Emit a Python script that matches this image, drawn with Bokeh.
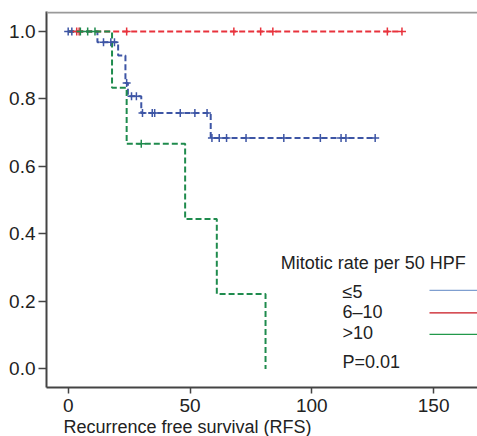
from bokeh.plotting import figure
from bokeh.models import Range1d, FixedTicker, PrintfTickFormatter, Span, Title
from bokeh.core.properties import value
from bokeh.embed import file_html
from bokeh.resources import INLINE

# ---- data ----
groups = ["\u22645", "6\u201310", ">10"]

blue_event_t = [12, 20.5, 23.5, 24.5, 30, 58.5]
blue_surv = [0.968, 0.929, 0.847, 0.808, 0.758, 0.684]
blue_censor_t = [0, 1.5, 14.5, 17.5, 19, 24, 26, 28, 30.5, 34.5, 35.5, 46, 52, 57,
                 59, 62, 65, 73, 88.5, 103.5, 112, 114, 126]
blue_end = 126

red_event_t = []
red_surv = []
red_censor_t = [3.5, 4.5, 24, 68, 79, 84, 131, 137]
red_end = 137

green_event_t = [18, 24, 48, 61, 81]
green_surv = [0.833, 0.667, 0.444, 0.222, 0.0]
green_censor_t = [5, 8, 11, 30]
green_end = 81

x_ticks = [0, 50, 100, 150]
y_ticks = [0.0, 0.2, 0.4, 0.6, 0.8, 1.0]
legend_title = "Mitotic rate per 50 HPF"
p_text = "P=0.01"
x_label = "Recurrence free survival (RFS)"

curve_colors = ["#3d55a5", "#e8323c", "#1f8b4d"]
legend_colors = ["#7f9fd0", "#c8141e", "#22994a"]

FONT = "Liberation Sans"

p = figure(width=477, height=436, output_backend="svg", toolbar_location=None,
           x_range=Range1d(-8.9, 168), y_range=Range1d(-0.055, 1.059),
           min_border_left=46, min_border_right=0, min_border_top=11,
           min_border_bottom=49)
p.grid.visible = False
p.outline_line_color = None
p.background_fill_color = "white"
p.border_fill_color = "white"

p.add_layout(Span(location=1.056, dimension="width", line_color="#9a9a9a", line_width=2))


def surv_at(t, ev_t, ev_s):
    s = 1.0
    for et, es in zip(ev_t, ev_s):
        if et <= t:
            s = es
    return s


series = [
    (blue_event_t, blue_surv, blue_censor_t, blue_end),
    (red_event_t, red_surv, red_censor_t, red_end),
    (green_event_t, green_surv, green_censor_t, green_end),
]

for (ev_t, ev_s, c_t, end), col in zip(series, curve_colors):
    xs = [0] + list(ev_t)
    ys = [1.0] + list(ev_s)
    if not ev_t or end > ev_t[-1]:
        xs.append(end)
        ys.append(ys[-1])
    p.step(xs, ys, mode="after", line_color=col, line_width=2, line_dash="6 3")

for (ev_t, ev_s, c_t, end), col in zip(series, curve_colors):
    cy = [surv_at(t, ev_t, ev_s) for t in c_t]
    p.scatter(c_t, cy, marker="cross", size=8, line_color=col, line_width=1.5)

# legend
p.text([87.2], [0.3126], text=[legend_title], text_font=value(FONT), text_font_size="18px",
       text_color="#222222", text_align="left", text_baseline="middle")
p.text([112.6] * 3, [0.2267, 0.1674, 0.1052], text=groups, text_font=value(FONT),
       text_font_size="18px", text_color="#222222", text_align="left", text_baseline="middle")
p.text([112.6], [0.0193], text=[p_text], text_font=value(FONT), text_font_size="18px",
       text_color="#222222", text_align="left", text_baseline="middle")
p.segment(x0=[148.3] * 3, y0=[0.2326, 0.1659, 0.1022], x1=[170] * 3, y1=[0.2326, 0.1659, 0.1022],
          line_color=legend_colors, line_width=1.2)

for ax in (p.xaxis[0], p.yaxis[0]):
    ax.axis_line_color = "#444444"
    ax.axis_line_width = 2
    ax.major_tick_line_color = "#444444"
    ax.major_tick_line_width = 1.5
    ax.major_tick_in = 0
    ax.minor_tick_line_color = None
    ax.major_label_text_font = FONT
    ax.major_label_text_font_size = "19px"
    ax.major_label_text_color = "#222222"

p.xaxis.ticker = FixedTicker(ticks=x_ticks)
p.yaxis.ticker = FixedTicker(ticks=y_ticks)
p.yaxis.formatter = PrintfTickFormatter(format="%.1f")
p.xaxis.major_tick_out = 6
p.yaxis.major_tick_out = 8
p.xaxis.major_label_standoff = 5
p.yaxis.major_label_standoff = 3

p.add_layout(Title(text=x_label, align="left", offset=17, text_font=FONT,
                   text_font_size="18px", text_font_style="normal", text_color="#222222",
                   standoff=0), "below")

open("out.html", "w").write(file_html(p, INLINE))
